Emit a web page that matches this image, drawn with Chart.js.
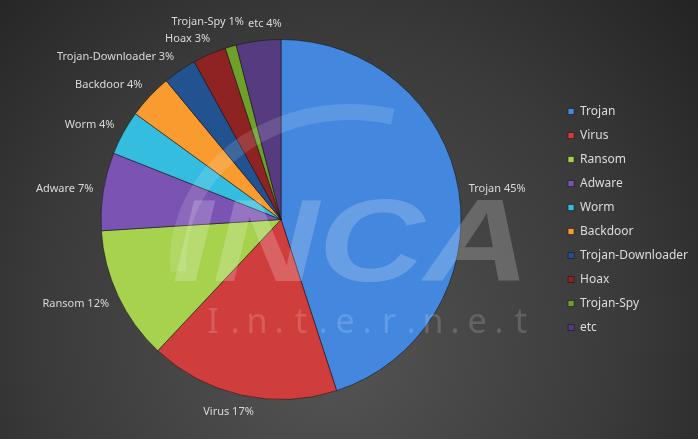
<!DOCTYPE html>
<html>
<head>
<meta charset="utf-8">
<script src="https://cdn.jsdelivr.net/npm/chart.js@4.4.0/dist/chart.umd.min.js"></script>
<style>
html, body { margin: 0; padding: 0; background: #2b2b2b; }
#wrap { width: 698px; height: 439px; }
</style>
</head>
<body>
<div id="wrap"><canvas id="malwareChart"></canvas></div>
<script>
// malware share (%)
var categories = ["Trojan", "Virus", "Ransom", "Adware", "Worm", "Backdoor", "Trojan-Downloader", "Hoax", "Trojan-Spy", "etc"];
var shares = [45, 17, 12, 7, 4, 4, 3, 3, 1, 4];
var sliceColors = ['#4388de', '#d03d3d', '#a6d24e', '#7b53b3', '#35bde0', '#f99b2f', '#22528f', '#8f2323', '#6ea02a', '#563b80'];

var fontFamily = '"Noto Sans", "DejaVu Sans", sans-serif';

// dark radial background like the office chart area
var bgPlugin = {
    id: 'bg',
    beforeDraw: function (chart) {
        var ctx = chart.ctx;
        var g = ctx.createRadialGradient(330, 360, 20, 330, 300, 520);
        g.addColorStop(0, '#525252');
        g.addColorStop(0.55, '#3a3a3a');
        g.addColorStop(1, '#1e1e1e');
        ctx.save();
        ctx.fillStyle = g;
        ctx.fillRect(0, 0, chart.width, chart.height);
        ctx.restore();
    }
};

// faint INCA watermark
var watermarkPlugin = {
    id: 'watermark',
    afterDatasetsDraw: function (chart) {
        var ctx = chart.ctx;
        // swoosh
        ctx.save();
        ctx.strokeStyle = 'rgba(255,255,255,0.13)';
        ctx.lineWidth = 16;
        ctx.beginPath();
        ctx.ellipse(350, 262, 172, 150, 0, Math.PI * 0.98, Math.PI * 1.58);
        ctx.stroke();
        ctx.restore();

        ctx.save();
        ctx.fillStyle = 'rgba(255,255,255,0.2)';
        ctx.font = 'italic bold 116px "Liberation Sans", Arial, sans-serif';
        ctx.textBaseline = 'alphabetic';
        var w = ctx.measureText('INCA').width;
        ctx.translate(172, 281);
        ctx.scale(358 / w, 1);
        ctx.fillText('INCA', 0, 0);
        ctx.restore();

        ctx.save();
        ctx.fillStyle = 'rgba(255,255,255,0.16)';
        ctx.font = '34px ' + fontFamily;
        ctx.textAlign = 'center';
        ctx.textBaseline = 'alphabetic';
        var word = 'I.n.t.e.r.n.e.t';
        for (var i = 0; i < word.length; i++) {
            ctx.fillText(word[i], 213 + i * 22, 333);
        }
        ctx.restore();
    }
};

// "Name NN%" labels outside each slice
var outsideLabels = {
    id: 'outsideLabels',
    afterDatasetsDraw: function (chart) {
        var ctx = chart.ctx;
        var arcs = chart.getDatasetMeta(0).data;
        var placed = [];
        var h = 14, gap = 17;
        ctx.save();
        ctx.font = '11px ' + fontFamily;
        ctx.fillStyle = '#dadada';
        ctx.textAlign = 'center';
        ctx.textBaseline = 'middle';
        arcs.forEach(function (arc, i) {
            var p = arc.getProps(['x', 'y', 'startAngle', 'endAngle', 'outerRadius'], true);
            var mid = (p.startAngle + p.endAngle) / 2;
            var dx = Math.cos(mid), dy = Math.sin(mid);
            var text = categories[i] + ' ' + shares[i] + '%';
            var w = ctx.measureText(text).width;
            var r = p.outerRadius + 10;
            var k = Math.max(-1, Math.min(1, dx * 2));
            var cx = p.x + dx * r + k * w / 2;
            var cy = p.y + dy * r + dy * h / 2;
            // push away from labels already drawn
            placed.forEach(function (b) {
                if (Math.abs(cx - b.x) < (w + b.w) / 2 + 4 && Math.abs(cy - b.y) < gap) {
                    var vert = gap - Math.abs(cy - b.y);
                    var horz = (w + b.w) / 2 + 4 - Math.abs(cx - b.x);
                    if (vert <= horz) {
                        cy += (dy < 0 ? -vert : vert);
                    } else {
                        cx += (cx >= b.x ? horz : -horz);
                    }
                }
            });
            placed.push({ x: cx, y: cy, w: w });
            ctx.fillText(text, cx, cy);
        });
        ctx.restore();
    }
};

var ctxPie = document.getElementById('malwareChart').getContext('2d');
var malwareChart = new Chart(ctxPie, {
    type: 'pie',
    data: {
        labels: categories,
        datasets: [{
            data: shares,
            backgroundColor: sliceColors,
            borderColor: 'rgba(20,20,20,0.55)',
            borderWidth: 1
        }]
    },
    options: {
        responsive: true,
        maintainAspectRatio: false,
        animation: false,
        layout: {
            padding: { top: 39, bottom: 39, left: 6, right: 0 }
        },
        plugins: {
            legend: {
                position: 'right',
                labels: {
                    color: '#dcdcdc',
                    boxWidth: 6,
                    boxHeight: 6,
                    padding: 12,
                    font: { family: fontFamily, size: 12 }
                }
            },
            tooltip: { enabled: false }
        }
    },
    plugins: [bgPlugin, watermarkPlugin, outsideLabels]
});
</script>
</body>
</html>
